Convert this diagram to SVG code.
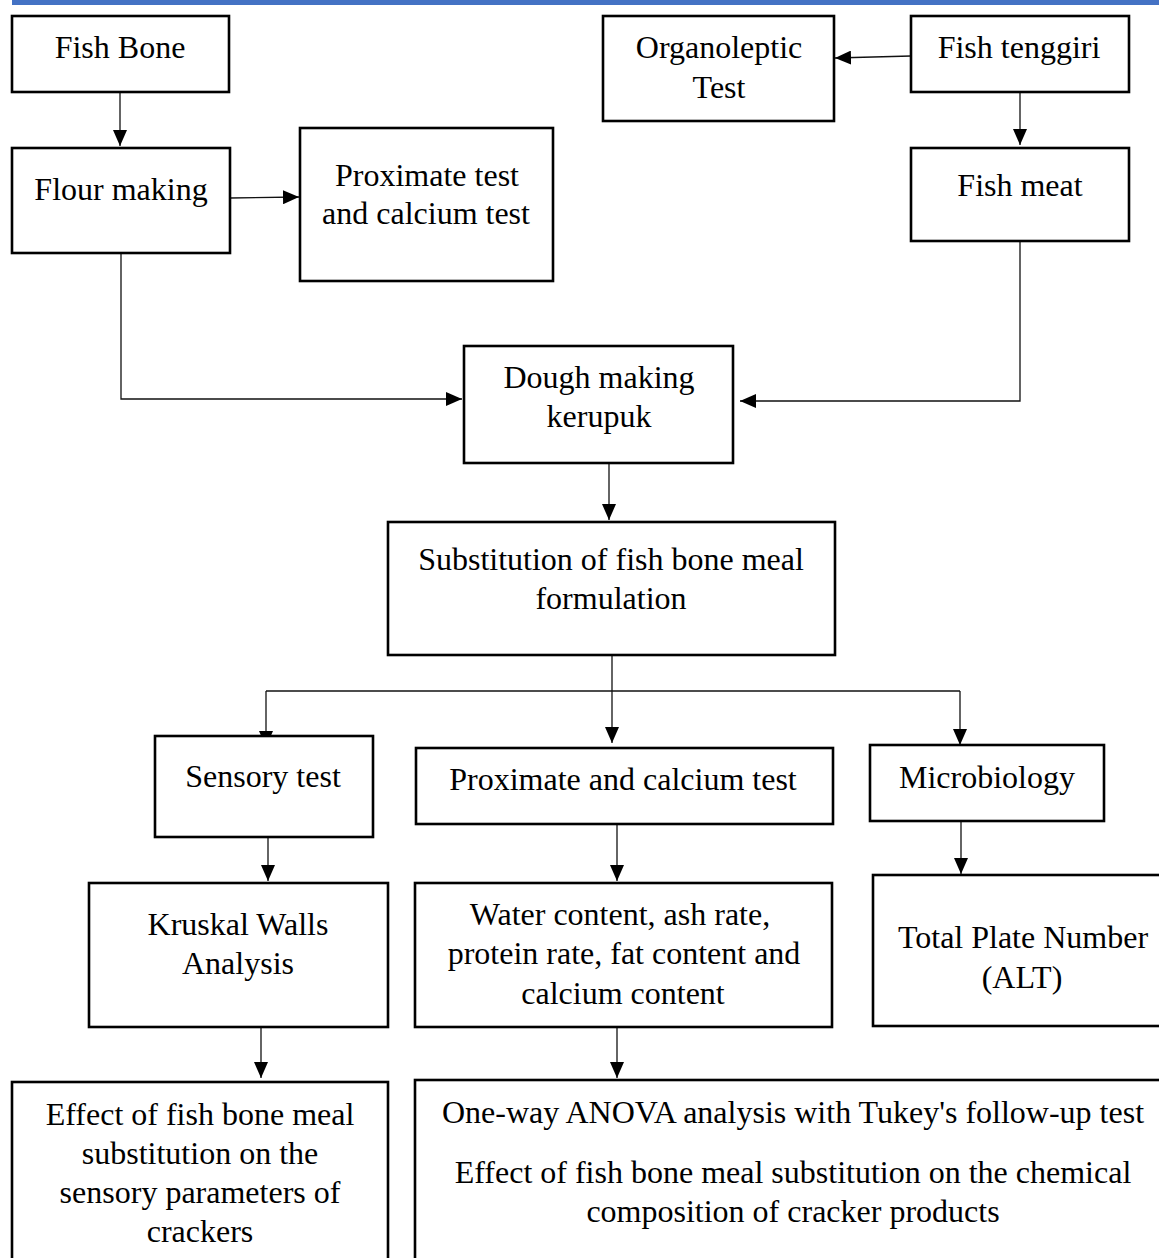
<svg xmlns="http://www.w3.org/2000/svg" width="1159" height="1258" viewBox="0 0 1159 1258">
<style>
.box{fill:#fff;stroke:#000;stroke-width:2.6}
.lbl{font-family:"Liberation Serif","Times New Roman",serif;font-size:32px;fill:#000;text-anchor:middle}
.con{fill:none;stroke:#111;stroke-width:1.3}
</style>
<defs>
<marker id="arr" markerUnits="userSpaceOnUse" markerWidth="16" markerHeight="14" viewBox="0 0 16 14" refX="16" refY="7" orient="auto">
<path d="M0,0 L16,7 L0,14 z" fill="#000"/>
</marker>
</defs>
<rect x="0" y="0" width="1159" height="1258" fill="#fff"/>
<rect x="12" y="0" width="1147" height="5" fill="#4472C4"/>

<g id="connectors">
<path class="con" marker-end="url(#arr)" d="M120,92 V146"/>
<path class="con" marker-end="url(#arr)" d="M230,198 L299,197"/>
<path class="con" marker-end="url(#arr)" d="M911,56 L835,58"/>
<path class="con" marker-end="url(#arr)" d="M1020,92 V145"/>
<path class="con" marker-end="url(#arr)" d="M121,253 V399 H462"/>
<path class="con" marker-end="url(#arr)" d="M1020,241 V401 H740"/>
<path class="con" marker-end="url(#arr)" d="M609,463 V520"/>
<path class="con" marker-end="url(#arr)" d="M612,655 V743"/>
<path class="con" d="M266,691 H960"/>
<path class="con" marker-end="url(#arr)" d="M266,691 V747"/>
<path class="con" marker-end="url(#arr)" d="M960,691 V745"/>
<path class="con" marker-end="url(#arr)" d="M268,827 V881"/>
<path class="con" marker-end="url(#arr)" d="M617,824 V881"/>
<path class="con" marker-end="url(#arr)" d="M961,820 V874"/>
<path class="con" marker-end="url(#arr)" d="M261,1025 V1078"/>
<path class="con" marker-end="url(#arr)" d="M617,1025 V1078"/>
</g>

<g id="fish-bone"><rect class="box" x="12" y="16" width="217" height="76"/><text class="lbl" x="120" y="58">Fish Bone</text></g>
<g id="flour-making"><rect class="box" x="12" y="148" width="218" height="105"/><text class="lbl" x="121" y="200">Flour making</text></g>
<g id="proximate-test"><rect class="box" x="300" y="128" width="253" height="153"/><text class="lbl" x="427" y="186">Proximate test</text><text class="lbl" x="426" y="224">and calcium test</text></g>
<g id="organoleptic-test"><rect class="box" x="603" y="16" width="231" height="105"/><text class="lbl" x="719" y="58">Organoleptic</text><text class="lbl" x="719" y="98">Test</text></g>
<g id="fish-tenggiri"><rect class="box" x="911" y="16" width="218" height="76"/><text class="lbl" x="1019" y="58">Fish tenggiri</text></g>
<g id="fish-meat"><rect class="box" x="911" y="148" width="218" height="93"/><text class="lbl" x="1020" y="196">Fish meat</text></g>
<g id="dough-making"><rect class="box" x="464" y="346" width="269" height="117"/><text class="lbl" x="599" y="388">Dough making</text><text class="lbl" x="599" y="427">kerupuk</text></g>
<g id="substitution"><rect class="box" x="388" y="522" width="447" height="133"/><text class="lbl" x="611" y="570">Substitution of fish bone meal</text><text class="lbl" x="611" y="609">formulation</text></g>
<g id="sensory-test"><rect class="box" x="155" y="736" width="218" height="101"/><text class="lbl" x="263" y="787">Sensory test</text></g>
<g id="proximate-calcium"><rect class="box" x="416" y="748" width="417" height="76"/><text class="lbl" x="623" y="790">Proximate and calcium test</text></g>
<g id="microbiology"><rect class="box" x="870" y="745" width="234" height="76"/><text class="lbl" x="987" y="788">Microbiology</text></g>
<g id="kruskal"><rect class="box" x="89" y="883" width="299" height="144"/><text class="lbl" x="238" y="935">Kruskal Walls</text><text class="lbl" x="238" y="974">Analysis</text></g>
<g id="water-content"><rect class="box" x="415" y="883" width="417" height="144"/><text class="lbl" x="620" y="925">Water content, ash rate,</text><text class="lbl" x="624" y="964">protein rate, fat content and</text><text class="lbl" x="623" y="1004">calcium content</text></g>
<g id="total-plate"><rect class="box" x="873" y="875" width="300" height="151"/><text class="lbl" x="1023" y="948">Total Plate Number</text><text class="lbl" x="1022" y="988">(ALT)</text></g>
<g id="effect-sensory"><rect class="box" x="12" y="1082" width="376" height="200"/><text class="lbl" x="200" y="1125">Effect of fish bone meal</text><text class="lbl" x="200" y="1164">substitution on the</text><text class="lbl" x="200" y="1203">sensory parameters of</text><text class="lbl" x="200" y="1242">crackers</text></g>
<g id="effect-chemical"><rect class="box" x="415" y="1080" width="780" height="200"/><text class="lbl" x="793" y="1123">One-way ANOVA analysis with Tukey's follow-up test</text><text class="lbl" x="793" y="1183">Effect of fish bone meal substitution on the chemical</text><text class="lbl" x="793" y="1222">composition of cracker products</text></g>
</svg>
